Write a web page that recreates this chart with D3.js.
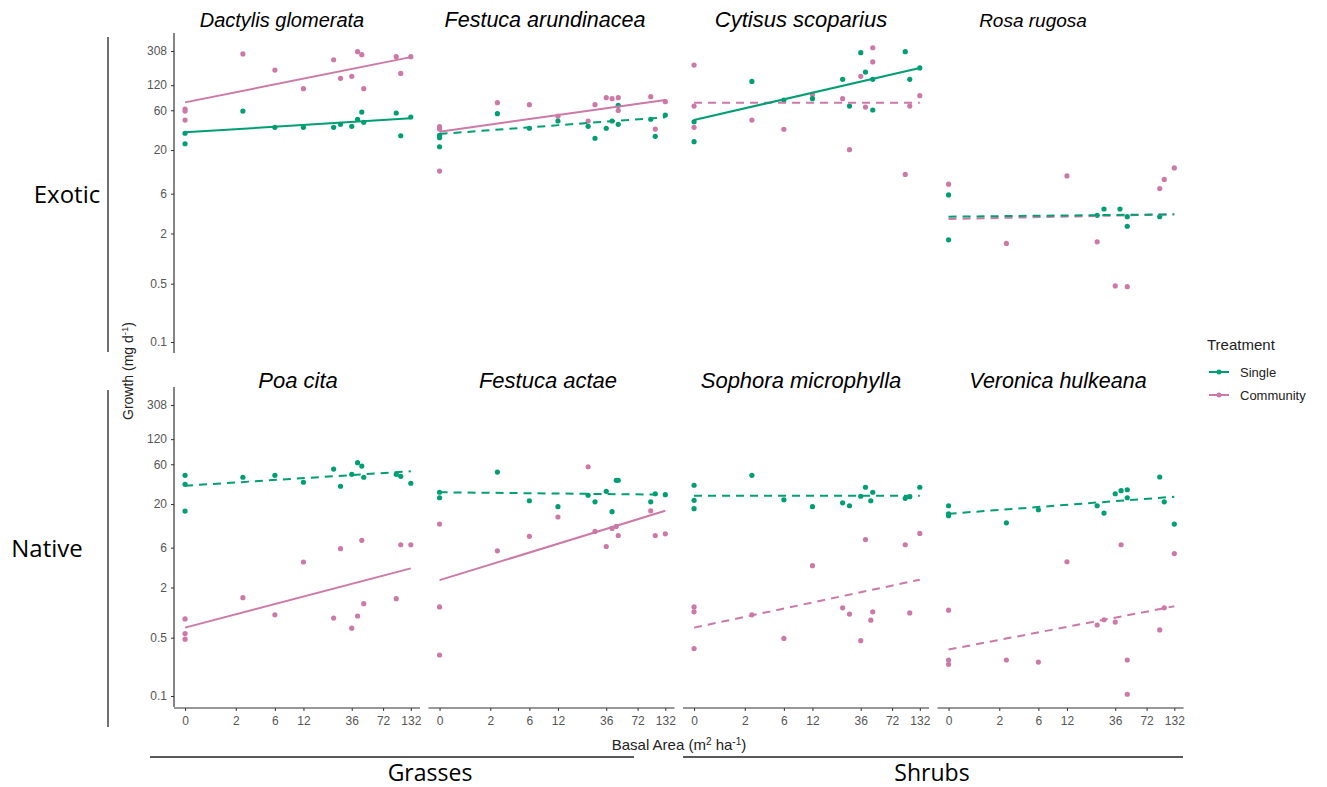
<!DOCTYPE html>
<html><head><meta charset="utf-8">
<script src="https://cdn.jsdelivr.net/npm/d3@7"></script>
<style>body{margin:0;background:#fff} svg{display:block;font-family:"Liberation Sans",Arial,sans-serif}</style>
</head><body><svg id="chart" width="1327" height="787"></svg>
<script>
// ---------------- data ----------------
const species = ["Dactylis glomerata","Festuca arundinacea","Cytisus scoparius","Rosa rugosa",
                 "Poa cita","Festuca actae","Sophora microphylla","Veronica hulkeana"];
const origins = ["Exotic","Native"];
const growthForms = ["Grasses","Shrubs"];
const treatments = ["Single","Community"];
const xTicks = [0,2,6,12,36,72,132];
const yTicks = [0.1,0.5,2,6,20,60,120,308];

// [basal area, growth]
const dactylisSingle = [[0,31.8],[0,23.8],[2.5,58.7],[6,37.5],[12,37.5],[24,37.5],[28,40.7],[36,38.5],[41,46.8],[45,57.1],[47,43],[96,55.6],[106,29.7],[132,49.8]];
const dactylisCommunity = [[0,62],[0,58.7],[0,45.8],[2.5,284],[6,182],[12,109],[24,242],[28,145],[36,153],[41,302],[45,278],[47,109],[96,263],[106,166],[132,263]];
const arundinaceaSingle = [[0,30],[0,28.1],[0,21.9],[2.5,54.6],[6,36.5],[12,44.6],[24,38.5],[28,27.7],[36,36.5],[41,44.6],[47,40.7],[47,68.7],[96,46.8],[106,29.2],[132,52.6]];
const arundinaceaCommunity = [[0,38.1],[0,35.7],[0,11.2],[2.5,74],[6,70],[12,51],[24,44.6],[28,70],[36,85],[41,82.6],[47,85],[47,59.8],[96,87.3],[106,35.7],[132,76]];
const cytisusSingle = [[0,43.7],[0,25.2],[2.5,133],[6,79.6],[12,82.6],[24,141],[28,67.4],[36,294],[40,172],[47,141],[47,60.4],[96,302],[106,141],[132,193]];
const cytisusCommunity = [[0,209],[0,67.4],[0,37.5],[2.5,45.8],[6,35.5],[12,93],[24,82.6],[28,20.2],[36,153],[47,337],[47,228],[40,65.6],[96,10.2],[106,67.4],[132,89.7]];
const rosaSingle = [[0,5.8],[0,1.68],[24,3.3],[28,3.93],[40,3.93],[47,2.44],[47,3.18],[96,3.18]];
const rosaCommunity = [[0,7.8],[2.5,1.52],[12,9.8],[24,1.59],[36,0.47],[47,0.46],[96,6.9],[106,8.9],[132,12.2]];
const poaSingle = [[0,44.2],[0,34.5],[0,16.5],[2.5,41.9],[6,44.2],[12,36.5],[24,52.6],[28,32.7],[36,45.5],[41,62.7],[45,57.1],[47,41.9],[96,45.5],[106,43],[132,35.5]];
const poaCommunity = [[0,0.84],[0,0.56],[0,0.48],[2.5,1.51],[6,0.94],[12,4.04],[24,0.86],[28,5.83],[36,0.65],[41,0.91],[45,7.35],[47,1.28],[96,1.47],[106,6.5],[132,6.5]];
const actaeSingle = [[0,27.7],[0,23.8],[2.5,48.4],[6,21.9],[12,18.6],[24,25.5],[28,21.3],[36,28.4],[41,16.2],[45,38.5],[47,38.5],[96,21.3],[106,26.6],[132,25.9]];
const actaeCommunity = [[0,11.5],[0,1.17],[0,0.31],[2.5,5.5],[6,8.2],[12,14],[24,56],[28,9.4],[36,6.2],[41,10.2],[45,10.8],[47,8.4],[96,16.6],[106,8.4],[132,8.8]];
const sophoraSingle = [[0,33.6],[0,22.2],[0,17.6],[2.5,44.2],[6,22.5],[12,18.6],[24,20.7],[28,19.1],[36,24.8],[40,31.8],[45,21.9],[47,27.7],[96,23.4],[106,24.5],[132,31.8]];
const sophoraCommunity = [[0,1.17],[0,1.02],[0,0.37],[2.5,0.94],[6,0.49],[12,3.65],[24,1.14],[28,0.96],[36,0.46],[40,7.5],[45,0.81],[47,1.02],[96,6.5],[106,0.99],[132,8.9]];
const veronicaSingle = [[0,19.1],[0,15.3],[0,14.5],[2.5,11.9],[6,17.1],[24,19.1],[28,15.6],[36,26.6],[41,28.9],[47,29.7],[47,23.8],[96,42.2],[106,21.3],[132,11.5]];
const veronicaCommunity = [[0,1.07],[0,0.27],[0,0.24],[2.5,0.27],[6,0.255],[12,4.07],[24,0.71],[28,0.82],[36,0.77],[41,6.5],[47,0.27],[47,0.105],[96,0.62],[106,1.14],[132,5.1]];

// fitted line: growth at basal area 0 and at 132
const fitSingle = [[32.7,48],[31.2,49.4],[45.8,193],[3.18,3.39],[33.2,49.4],[27.7,25.9],[25.2,25.2],[15.3,24.5]];
const fitCommunity = [[74.6,260],[33.2,79.6],[74,74],[2.98,3.39],[0.66,3.39],[2.45,16.6],[0.66,2.48],[0.36,1.19]];
const sigSingle = [true,false,true,false,false,false,false,false];
const sigCommunity = [true,true,false,false,true,true,false,false];

const singleSets = [dactylisSingle,arundinaceaSingle,cytisusSingle,rosaSingle,poaSingle,actaeSingle,sophoraSingle,veronicaSingle];
const communitySets = [dactylisCommunity,arundinaceaCommunity,cytisusCommunity,rosaCommunity,poaCommunity,actaeCommunity,sophoraCommunity,veronicaCommunity];

// ---------------- layout ----------------
const colors = {Single:"#009E73", Community:"#CC79A7"};
const panelLeft = [174, 428.5, 683, 937.5];
const panelW = 246;
const rowTop = [33, 387];
const panelH = 320;
const titleX = [282, 545, 801, 1033, 298, 548, 801, 1058];
const titleSize = [20, 21.5, 22, 19, 22, 22, 22, 21.5];
const titleY = [27, 388];

const svg = d3.select("#chart");
const x = d3.scaleSymlog().constant(1).domain([0,132]).range([11.06, 236.8]);
const y = d3.scaleLog().domain([0.1,308]).range([309, 18]);

species.forEach((sp, i) => {
  const col = i % 4, row = Math.floor(i / 4);
  const g = svg.append("g").attr("transform", `translate(${panelLeft[col]},${rowTop[row]})`);

  const sets = [["Community", communitySets[i]], ["Single", singleSets[i]]];
  sets.forEach(([tr, pts]) => {
    g.selectAll(null).data(pts).join("circle")
      .attr("cx", d => x(d[0])).attr("cy", d => y(d[1])).attr("r", 2.6)
      .attr("fill", colors[tr]);
  });
  const fits = [["Community", fitCommunity[i], sigCommunity[i]], ["Single", fitSingle[i], sigSingle[i]]];
  fits.forEach(([tr, f, sig]) => {
    g.append("path")
      .attr("d", d3.line().x(d => x(d[0])).y(d => y(d[1]))([[0, f[0]], [132, f[1]]]))
      .attr("fill", "none").attr("stroke", colors[tr]).attr("stroke-width", 2)
      .attr("stroke-dasharray", sig ? null : "8,6");
  });

  if (col === 0) {
    const ya = g.append("g").call(d3.axisLeft(y).tickValues(yTicks).tickFormat(d3.format("~g")).tickSize(3).tickPadding(4));
    ya.select(".domain").attr("stroke", "#333").attr("stroke-width", 1.2).attr("d", `M0,0V${panelH}`);
    ya.selectAll(".tick line").attr("stroke", "#333");
    ya.selectAll("text").attr("fill", "#555").attr("font-size", 12).attr("font-family", "Liberation Sans, Arial");
  }
  if (row === 1) {
    const xa = g.append("g").attr("transform", `translate(0,${panelH + 1})`)
      .call(d3.axisBottom(x).tickValues(xTicks).tickFormat(d3.format("d")).tickSize(3).tickPadding(5));
    xa.select(".domain").attr("stroke", "#333").attr("stroke-width", 1.2).attr("d", `M0,0H${panelW}`);
    xa.selectAll(".tick line").attr("stroke", "#333");
    xa.selectAll("text").attr("fill", "#555").attr("font-size", 12).attr("font-family", "Liberation Sans, Arial");
  }

  svg.append("text").attr("x", titleX[i]).attr("y", titleY[row])
    .attr("text-anchor", "middle").attr("font-style", "italic")
    .attr("font-size", titleSize[i]).attr("fill", "#000").text(sp);
});

// row labels and brackets
const rowLabelX = [67, 47];
const rowLabelY = [195, 549];
const bracket = [[37, 352], [390, 727]];
origins.forEach((o, r) => {
  svg.append("text").attr("x", rowLabelX[r]).attr("y", rowLabelY[r]).attr("dy", "0.35em")
    .attr("text-anchor", "middle").attr("font-family", "Open Sans, sans-serif")
    .attr("font-size", 24).attr("fill", "#000").text(o);
  svg.append("line").attr("x1", 108).attr("x2", 108).attr("y1", bracket[r][0]).attr("y2", bracket[r][1])
    .attr("stroke", "#222").attr("stroke-width", 1.3);
});

// group labels and lines
const groupLine = [[150, 634], [683, 1183]];
const groupLabelX = [430, 932];
growthForms.forEach((gf, k) => {
  svg.append("line").attr("x1", groupLine[k][0]).attr("x2", groupLine[k][1]).attr("y1", 757).attr("y2", 757)
    .attr("stroke", "#222").attr("stroke-width", 1.3);
  svg.append("text").attr("x", groupLabelX[k]).attr("y", 773).attr("dy", "0.35em")
    .attr("text-anchor", "middle").attr("font-family", "Open Sans, sans-serif")
    .attr("font-size", 23).attr("fill", "#000").text(gf);
});

// axis titles
const yt = svg.append("text").attr("transform", "translate(133,371) rotate(-90)")
  .attr("text-anchor", "middle").attr("font-size", 14).attr("fill", "#222");
yt.append("tspan").text("Growth (mg d");
yt.append("tspan").attr("dy", -5).attr("font-size", 9.5).text("-1");
yt.append("tspan").attr("dy", 5).text(")");

const xt = svg.append("text").attr("x", 679).attr("y", 750)
  .attr("text-anchor", "middle").attr("font-size", 15).attr("fill", "#222");
xt.append("tspan").text("Basal Area (m");
xt.append("tspan").attr("dy", -5).attr("font-size", 10).text("2");
xt.append("tspan").attr("dy", 5).text(" ha");
xt.append("tspan").attr("dy", -5).attr("font-size", 10).text("-1");
xt.append("tspan").attr("dy", 5).text(")");

// legend
const lg = svg.append("g").attr("transform", "translate(1207,0)");
lg.append("text").attr("x", 0).attr("y", 350).attr("font-size", 15).attr("fill", "#222").text("Treatment");
treatments.forEach((t, k) => {
  const yy = 372 + k * 23;
  lg.append("line").attr("x1", 2).attr("x2", 22).attr("y1", yy).attr("y2", yy)
    .attr("stroke", colors[t]).attr("stroke-width", 2);
  lg.append("circle").attr("cx", 12).attr("cy", yy).attr("r", 2.5).attr("fill", colors[t]);
  lg.append("text").attr("x", 33).attr("y", yy).attr("dy", "0.35em").attr("font-size", 13)
    .attr("fill", "#222").text(t);
});
</script></body></html>
